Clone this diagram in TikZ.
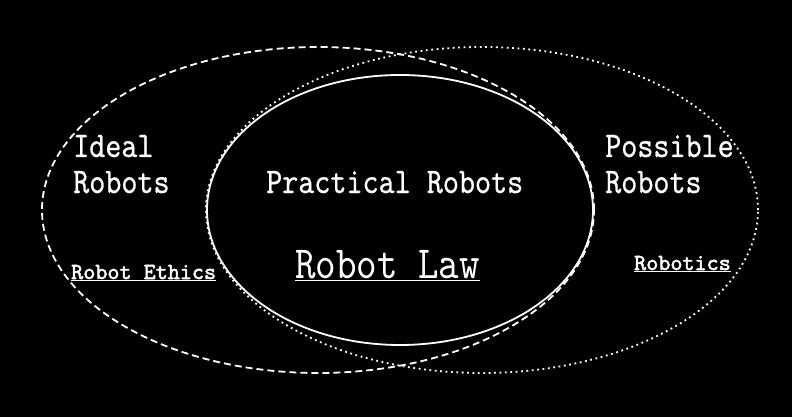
\documentclass[tikz,border=0pt]{standalone}
\usepackage{fontspec}
\usetikzlibrary{shapes.geometric}
\newfontfamily\setword[FakeStretch=0.85, FakeBold=0.6]{lmmono10-regular.otf}
\newfontfamily\lawword[FakeStretch=0.85]{lmmono10-regular.otf}
\newfontfamily\fieldword[FakeBold=2.2]{lmmono10-regular.otf}

\begin{document}
\begin{tikzpicture}[x=1pt, y=-1pt,
    every node/.style={text=white, inner sep=0pt},
    setring/.style={draw=white, line width=1.8pt, ellipse, inner sep=0pt},
    bigword/.style={font=\setword\fontsize{36}{36}\selectfont, anchor=base west},
    lawtext/.style={font=\lawword\fontsize{46}{46}\selectfont, anchor=base west},
    smallword/.style={font=\fieldword\fontsize{23}{27}\selectfont, anchor=base west}]
  \fill[black] (0,0) rectangle (792,417);
  % the three sets
  \node[setring, dash pattern=on 7pt off 4pt,
        minimum width=552pt, minimum height=326pt] (ideal) at (318,210) {};
  \node[setring, dash pattern=on 1.8pt off 3.6pt,
        minimum width=552pt, minimum height=326pt] (possible) at (482,210) {};
  \node[setring, minimum width=386pt, minimum height=270pt] (practical) at (400,210) {};
  % labels
  \node[bigword] (idealtop) at (73,157) {Ideal};
  \node[bigword] (idealbot) at (73,193) {Robots};
  \node[bigword] (practicaltxt) at (266,193) {Practical Robots};
  \node[bigword] (possibletop) at (605,157) {Possible};
  \node[bigword] (possiblebot) at (605,193) {Robots};
  \node[lawtext] (law) at (295,278) {\underline{Robot Law}};
  \node[smallword] (ethics) at (71,279) {\underline{Robot Ethics}};
  \node[smallword] (robotics) at (634,270) {\underline{Robotics}};
\end{tikzpicture}
\end{document}
